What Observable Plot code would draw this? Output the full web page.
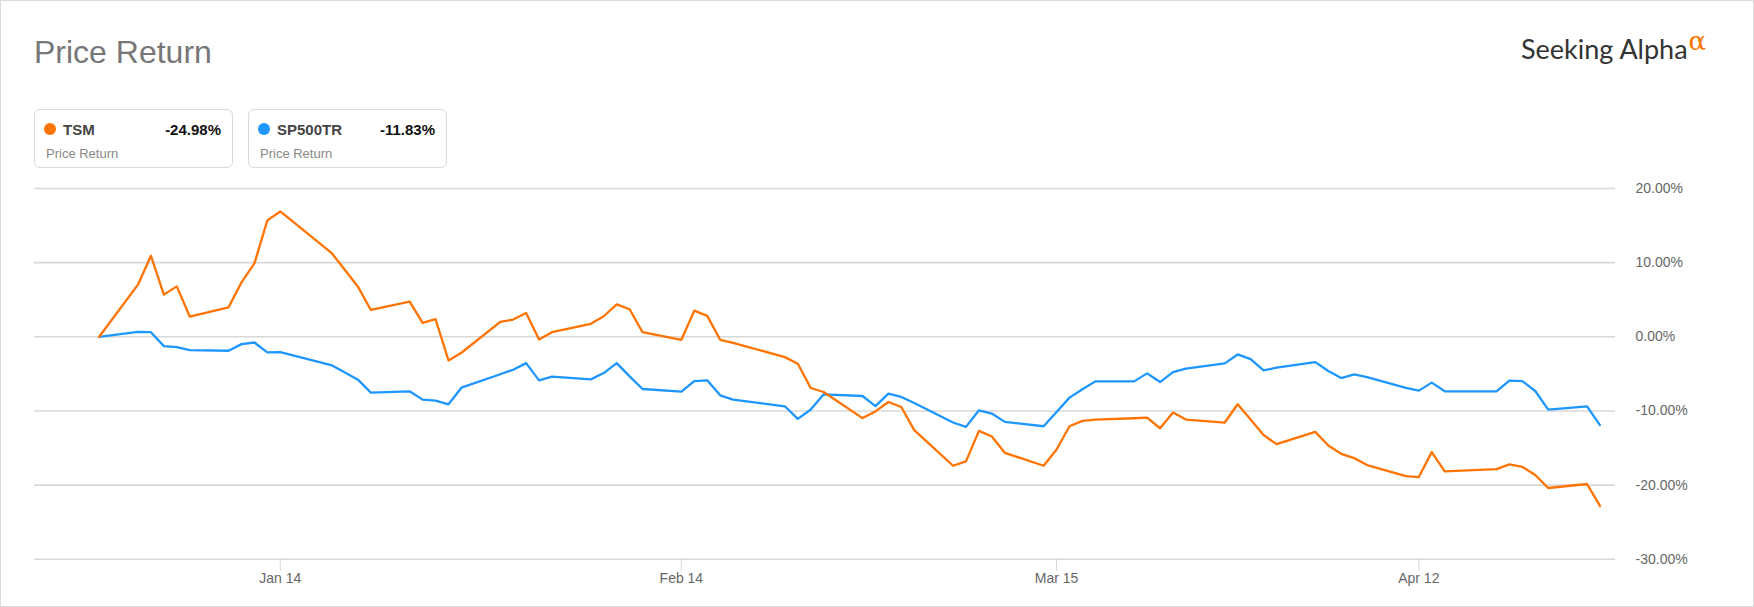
<!DOCTYPE html>
<html>
<head>
<meta charset="utf-8">
<script src="https://cdn.jsdelivr.net/npm/d3@7"></script>
<script src="https://cdn.jsdelivr.net/npm/@observablehq/plot@0.6"></script>
<style>
  html, body { margin: 0; padding: 0; background: #fff; }
  #frame { position: relative; width: 1752px; height: 605px; border: 1px solid #dcdcdc; overflow: hidden; font-family: "Liberation Sans", Arial, sans-serif; }
  #title { position: absolute; left: 33px; top: 35px; font-size: 32px; color: #777; line-height: 1; }
  #logo { position: absolute; left: 1520px; top: 34px; font-family: Lato, "Open Sans", sans-serif; font-size: 27px; color: #333; line-height: 1; white-space: nowrap; }
  #logo sup { color: #ff7300; font-family: "DejaVu Serif", serif; font-size: 26px; position: relative; top: -9px; vertical-align: baseline; margin-left: 1px; }
  .legend { position: absolute; top: 108px; height: 59px; width: 199px; border: 1px solid #dadada; border-radius: 6px; box-sizing: border-box; }
  .legend .dot { position: absolute; left: 9px; top: 13px; width: 12px; height: 12px; border-radius: 50%; }
  .legend .name { position: absolute; left: 28px; top: 11px; font-size: 15px; font-weight: bold; color: #444; }
  .legend .val { position: absolute; right: 11px; top: 11px; font-size: 15px; font-weight: bold; color: #111; }
  .legend .sub { position: absolute; left: 11px; top: 36px; font-size: 13px; color: #888; }
  #chart { position: absolute; left: -1px; top: 169px; }
</style>
</head>
<body>
<div id="frame">
  <div id="title">Price Return</div>
  <div id="logo">Seeking Alpha<sup>α</sup></div>
  <div id="legends"></div>
  <div id="chart"></div>
</div>
<script>
// ---- data ----
const dates = [
  "2021-12-31",
  "2022-01-03","2022-01-04","2022-01-05","2022-01-06","2022-01-07",
  "2022-01-10","2022-01-11","2022-01-12","2022-01-13","2022-01-14",
  "2022-01-18","2022-01-19","2022-01-20","2022-01-21",
  "2022-01-24","2022-01-25","2022-01-26","2022-01-27","2022-01-28",
  "2022-01-31","2022-02-01","2022-02-02","2022-02-03","2022-02-04",
  "2022-02-07","2022-02-08","2022-02-09","2022-02-10","2022-02-11",
  "2022-02-14","2022-02-15","2022-02-16","2022-02-17","2022-02-18",
  "2022-02-22","2022-02-23","2022-02-24","2022-02-25",
  "2022-02-28","2022-03-01","2022-03-02","2022-03-03","2022-03-04",
  "2022-03-07","2022-03-08","2022-03-09","2022-03-10","2022-03-11",
  "2022-03-14","2022-03-15","2022-03-16","2022-03-17","2022-03-18",
  "2022-03-21","2022-03-22","2022-03-23","2022-03-24","2022-03-25",
  "2022-03-28","2022-03-29","2022-03-30","2022-03-31","2022-04-01",
  "2022-04-04","2022-04-05","2022-04-06","2022-04-07","2022-04-08",
  "2022-04-11","2022-04-12","2022-04-13","2022-04-14",
  "2022-04-18","2022-04-19","2022-04-20","2022-04-21","2022-04-22",
  "2022-04-25","2022-04-26"
];
const tsm = [
  0,
  7.03, 10.93, 5.69, 6.8, 2.73,
  3.98, 7.34, 9.9, 15.7, 16.9,
  11.24, 9.0, 6.76, 3.62,
  4.74, 1.88, 2.37, -3.19, -2.15,
  2.0, 2.33, 3.22, -0.36, 0.62,
  1.75, 2.77, 4.38, 3.71, 0.62,
  -0.4, 3.53, 2.82, -0.4, -0.81,
  -2.74, -3.63, -6.9, -7.44,
  -10.96, -10.06, -8.79, -9.46, -12.59,
  -17.39, -16.8, -12.69, -13.44, -15.64,
  -17.39, -15.19, -12.06, -11.34, -11.16,
  -10.98, -10.89, -12.33, -10.22, -11.16,
  -11.56, -9.1, -11.16, -13.25, -14.48,
  -12.82, -14.65, -15.78, -16.36, -17.3,
  -18.78, -18.91, -15.55, -18.15,
  -17.84, -17.2, -17.53, -18.64, -20.39,
  -19.85, -22.81
];
const sp500tr = [
  0,
  0.67, 0.62, -1.26, -1.4, -1.8,
  -1.88, -0.99, -0.77, -2.11, -2.07,
  -3.86, -4.8, -5.78, -7.53,
  -7.35, -8.47, -8.6, -9.1, -6.86,
  -5.05, -4.44, -3.55, -5.87, -5.38,
  -5.74, -4.89, -3.55, -5.34, -7.04,
  -7.4, -5.97, -5.87, -7.89, -8.47,
  -9.37, -11.07, -9.81, -7.76,
  -7.98, -9.35, -7.66, -8.11, -8.92,
  -11.56, -12.15, -9.91, -10.35, -11.47,
  -12.06, -10.13, -8.2, -7.08, -6.01,
  -6.01, -4.93, -6.1, -4.76, -4.3,
  -3.59, -2.38, -3.01, -4.53, -4.17,
  -3.41, -4.62, -5.56, -5.07, -5.43,
  -6.9, -7.26, -6.18, -7.35,
  -7.35, -5.91, -5.97, -7.31, -9.81,
  -9.37, -11.9
];
const seriesNames = ["TSM", "SP500TR"];
const seriesColors = ["#ff7300", "#1e96ff"];
const legendValues = ["-24.98%", "-11.83%"];
const legendSub = "Price Return";
const xTicks = ["2022-01-14", "2022-02-14", "2022-03-15", "2022-04-12"];
const yTicks = [-30, -20, -10, 0, 10, 20];
const xDomain = ["2021-12-26", "2022-04-27T05:00"];

// ---- legend ----
const legendLefts = [33, 247];
const lg = document.getElementById("legends");
seriesNames.forEach((n, i) => {
  const box = document.createElement("div");
  box.className = "legend";
  box.style.left = legendLefts[i] + "px";
  box.innerHTML = `<span class="dot" style="background:${seriesColors[i]}"></span>` +
    `<span class="name">${n}</span><span class="val">${legendValues[i]}</span>` +
    `<span class="sub">${legendSub}</span>`;
  lg.appendChild(box);
});

// ---- chart ----
const rows = [];
dates.forEach((d, i) => {
  rows.push({date: new Date(d), value: tsm[i], series: seriesNames[0]});
  rows.push({date: new Date(d), value: sp500tr[i], series: seriesNames[1]});
});

const chart = Plot.plot({
  width: 1754,
  height: 437,
  marginLeft: 34,
  marginRight: 138,
  marginTop: 18,
  marginBottom: 48,
  style: {fontFamily: "'Liberation Sans', Arial, sans-serif", fontSize: "14px", background: "transparent"},
  x: {type: "utc", domain: xDomain.map(d => new Date(d))},
  y: {domain: [-30, 20]},
  color: {domain: seriesNames, range: seriesColors},
  marks: [
    Plot.gridY(yTicks, {stroke: "#d8d8d8", strokeOpacity: 1, strokeWidth: 1.6}),
    Plot.axisY(yTicks, {anchor: "right", tickSize: 0, tickPadding: 20, fill: "#666", fontSize: 14,
      tickFormat: v => v.toFixed(2) + "%", label: null}),
    Plot.axisX(xTicks.map(d => new Date(d)), {anchor: "bottom", tickSize: 12, tickPadding: 2,
      stroke: "#d8d8d8", fill: "#666", fontSize: 14, tickFormat: d3.utcFormat("%b %-d"), label: null}),
    Plot.line(rows.filter(r => r.series === "SP500TR"), {x: "date", y: "value", stroke: seriesColors[1], strokeWidth: 2.3}),
    Plot.line(rows.filter(r => r.series === "TSM"), {x: "date", y: "value", stroke: seriesColors[0], strokeWidth: 2.3})
  ]
});
document.getElementById("chart").appendChild(chart);
</script>
</body>
</html>
